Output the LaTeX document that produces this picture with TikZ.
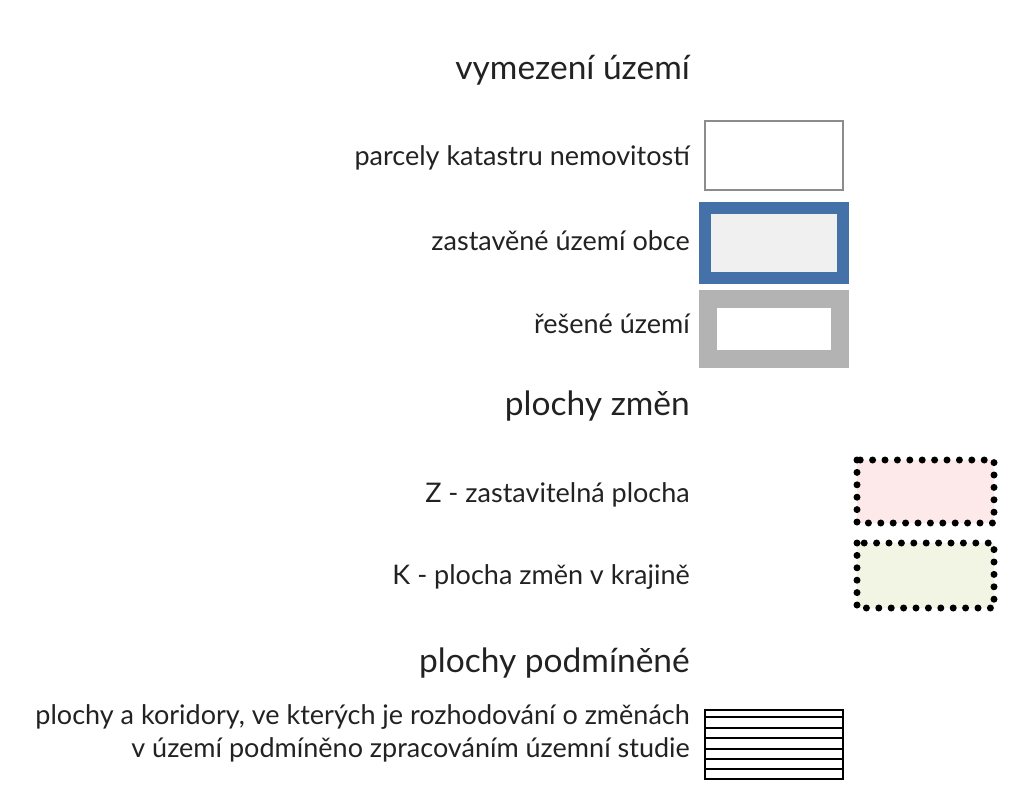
\documentclass[tikz,border=0pt]{standalone}
\usepackage{fontspec}
\setmainfont{Lato}
\definecolor{zobec}{HTML}{4472A8}
\definecolor{zobecfill}{HTML}{F0F0F0}
\definecolor{resgray}{HTML}{B3B3B3}
\definecolor{zpink}{HTML}{FDE9EA}
\definecolor{kgreen}{HTML}{F2F5E3}
\definecolor{txt}{HTML}{222222}
\tikzset{
  title/.style={anchor=base east, inner sep=0pt, font=\fontsize{33.5}{40}\selectfont, text=txt},
  label/.style={anchor=base east, inner sep=0pt, font=\fontsize{27}{33}\selectfont, text=txt, align=right},
  dotbox/.style={draw=black, line width=7pt, line cap=round, dash pattern=on 0pt off 12.4pt},
}
\begin{document}
\begin{tikzpicture}[x=1pt,y=-1pt]
\useasboundingbox (0,0) rectangle (1020,797);
% titles
\node[title] (t1) at (690,80) {vymezení území};
\node[title] (t2) at (690,415) {plochy změn};
\node[title] (t3) at (690,672) {plochy podmíněné};
% labels
\node[label] (l1) at (690,165) {parcely katastru nemovitostí};
\node[label] (l2) at (690,250) {zastavěné území obce};
\node[label] (l3) at (690,333) {řešené území};
\node[label] (l4) at (690,502) {Z - zastavitelná plocha};
\node[label] (l5) at (690,584) {K - plocha změn v krajině};
\node[label] (l6) at (690,757) {plochy a koridory, ve kterých je rozhodování o změnách\\v území podmíněno zpracováním územní studie};
% boxes
\draw[draw=gray!90, line width=1.2pt, fill=white] (705,121) rectangle (843,190);
\draw[draw=zobec, line width=12pt, fill=zobecfill] (705,208) rectangle (843,278);
\draw[draw=resgray, line width=18pt, fill=white] (708,299) rectangle (840,359);
% dotted
\fill[zpink] (857,460) rectangle (994,523);
\draw[dotbox] (857,460) rectangle (994,523);
\fill[kgreen] (857,543) rectangle (994,608);
\draw[dotbox] (857,543) rectangle (994,608);
% hatched
\draw[line width=2.4pt] (705,710) rectangle (843,779);
\foreach \y in {717,728,738,749,759,769} {
  \draw[line width=2.2pt] (705,\y) -- (843,\y);
}
\end{tikzpicture}
\end{document}
